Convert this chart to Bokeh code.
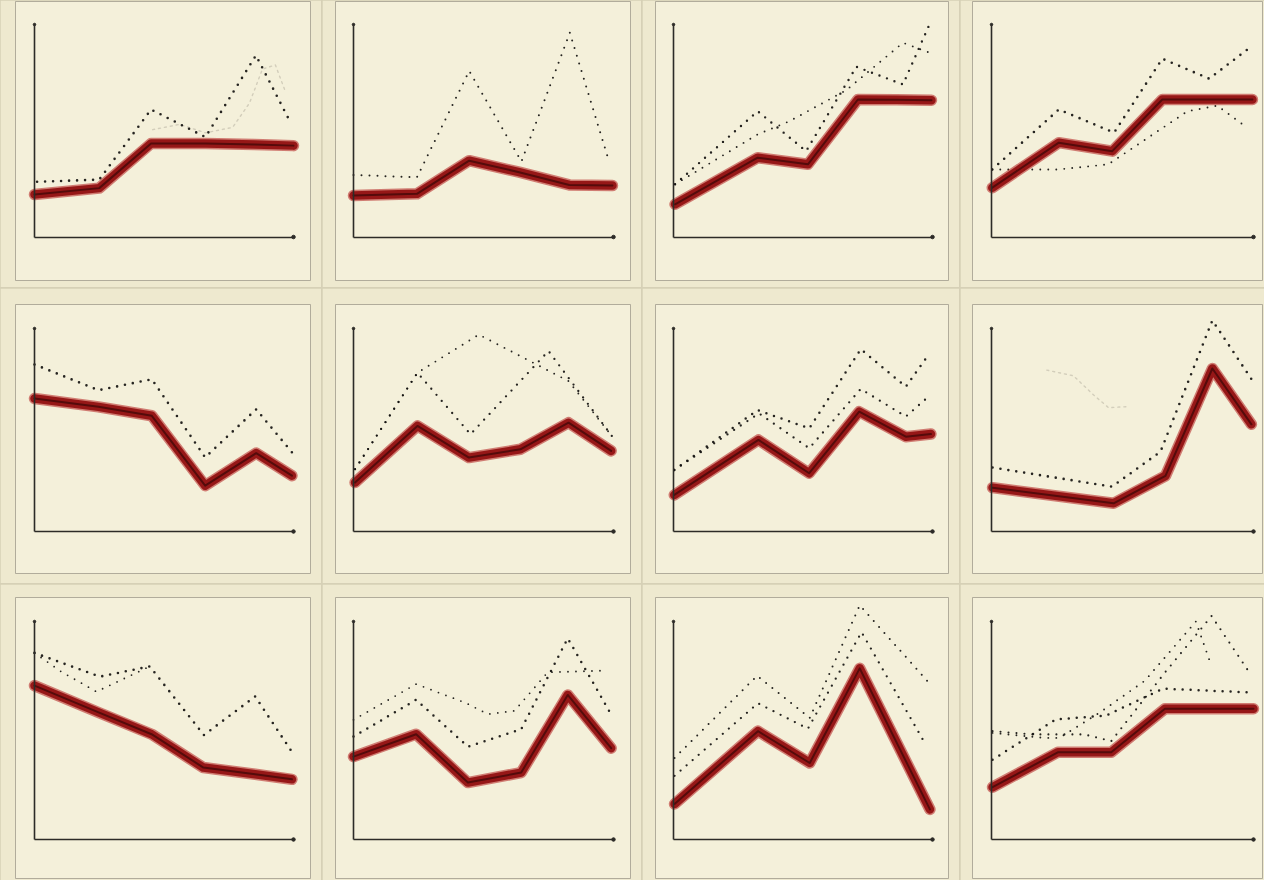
from bokeh.plotting import figure
from bokeh.layouts import row, column
from bokeh.models import Range1d, LinearAxis, FixedTicker
from bokeh.embed import file_html
from bokeh.resources import INLINE

# ---------------- data (axis units: 0..100 on both axes) ----------------
# Panel 1
p1_red_x = [0, 25, 45, 66, 85, 100]
p1_red_y = [20, 23, 44, 44, 43.5, 43]
p1_dot_x = [1, 25, 45, 66, 85.5, 99]
p1_dot_y = [26, 27, 60, 47, 85.5, 53.5]
p1_faint_x = [45.6, 56, 66, 76.5, 83, 88, 93, 97]
p1_faint_y = [50.5, 53, 49, 51.6, 63, 79, 81, 68]
# Panel 2
p2_red_x = [0, 24.4, 44.5, 63.7, 83, 99.6]
p2_red_y = [19.5, 20.3, 35.9, 30.5, 24.5, 24.2]
p2_dot_x = [0, 24.4, 44.5, 64.6, 83.2, 98]
p2_dot_y = [29.2, 28.1, 78.1, 35.5, 96.1, 36.7]
# Panel 3
p3_red_x = [0.6, 32.5, 51.9, 71.2, 86, 99.6]
p3_red_y = [15.4, 37.3, 34.2, 64.7, 64.6, 64.4]
p3_dotA_x = [0.6, 32.5, 51.2, 70.6, 88.6, 99]
p3_dotA_y = [24.8, 59.2, 40.4, 80.1, 71.8, 100.5]
p3_dotB_x = [0.6, 32.5, 44.8, 66.7, 88.6, 99]
p3_dotB_y = [24.8, 48.3, 54.5, 69.1, 91.4, 86.7]
# Panel 4
p4_red_x = [0.3, 25.7, 46.1, 65.2, 82.4, 99.6]
p4_red_y = [23.2, 44.4, 40.4, 64.7, 64.7, 64.7]
p4_dotA_x = [0.3, 25.7, 46.8, 65.2, 83.1, 99]
p4_dotA_y = [31.8, 60, 49.1, 83.9, 74.5, 89.5]
p4_dotB_x = [0.3, 25.7, 44.6, 74.8, 86.2, 96.4]
p4_dotB_y = [31.8, 31.8, 34.2, 59.2, 61.8, 52.5]
# Panel 5
p5_red_x = [0, 24.7, 45.3, 65.9, 85.6, 99.4]
p5_red_y = [65.5, 61.4, 57, 22.6, 38.6, 27.5]
p5_dot_x = [0, 24.7, 45.3, 65.9, 85.6, 100]
p5_dot_y = [82.3, 69.6, 75, 36.5, 60.2, 38.1]
# Panel 6
p6_red_x = [0.6, 24.6, 44.4, 64.2, 82.7, 99.1]
p6_red_y = [24.1, 52, 36.4, 40.5, 53.6, 39.7]
p6_dotA_x = [0.6, 24.6, 45, 75, 99.4]
p6_dotA_y = [30.7, 78.2, 47.9, 88.9, 47]
p6_dotB_x = [0.6, 24.6, 48.2, 82.7, 99.4]
p6_dotB_y = [30.7, 78.2, 97, 74.1, 47]
# Panel 7
p7_red_x = [0.3, 32.8, 52.4, 71.7, 89.7, 99.4]
p7_red_y = [18, 45.1, 28.7, 59, 46.7, 48]
p7_dotA_x = [0.3, 32.4, 52.4, 72.3, 89.7, 98.5]
p7_dotA_y = [30.3, 59.8, 50.8, 89.8, 71.3, 87.2]
p7_dotB_x = [0.3, 33, 52.4, 72.3, 89.7, 99.4]
p7_dotB_y = [30.3, 58.2, 41, 70.2, 56.6, 67.5]
# Panel 8
p8_red_x = [0.4, 46.6, 66.4, 84.3, 99.2]
p8_red_y = [21.6, 13.9, 27.4, 80.3, 52.8]
p8_dot_x = [0.4, 46, 64.5, 84.3, 99.2]
p8_dot_y = [31.5, 22.1, 39.3, 104, 75.1]
p8_faint_x = [21.1, 31.3, 39, 44.7, 51.7]
p8_faint_y = [79.5, 76.7, 67.2, 61, 61.5]
# Panel 9
p9_red_x = [0, 24.5, 45.2, 65.2, 85.2, 99.4]
p9_red_y = [70.6, 58.4, 48.3, 33, 29.9, 27.6]
p9_dotA_x = [0, 25.2, 44.5, 65.4, 85.2, 100]
p9_dotA_y = [85.6, 74.7, 79.4, 47.9, 65.6, 39.1]
p9_dotB_x = [0, 10.3, 23.9, 44.5]
p9_dotB_y = [85.6, 77, 67.8, 79.4]
# Panel 10
p10_red_x = [0, 24.1, 44, 64.5, 82.4, 99.1]
p10_red_y = [38, 48.3, 26.1, 30.7, 66.3, 41.9]
p10_dotA_x = [0, 24.1, 44, 64.5, 82.4, 98.5]
p10_dotA_y = [47.2, 64.1, 42.6, 50.6, 92.3, 58.6]
p10_dotB_x = [0, 24.1, 43.3, 51.7, 61.9, 74.7, 83.7, 97.2]
p10_dotB_y = [54.9, 71.3, 62.6, 57.5, 59, 76.7, 77, 77.5]
# Panel 11
p11_red_x = [0.4, 32.6, 52.6, 71.9, 99]
p11_red_y = [16.3, 49.7, 35.1, 78.5, 13.8]
p11_dotA_x = [0.4, 32.3, 52.6, 71.9, 89.3, 98.3]
p11_dotA_y = [37.4, 75.1, 55.8, 107.4, 84.3, 72.3]
p11_dotB_x = [0.4, 32.6, 51.9, 72.6, 97]
p11_dotB_y = [29.2, 62.5, 50.8, 95.1, 44.3]
# Panel 12
p12_red_x = [0.4, 25.3, 45.7, 66.2, 83.4, 100]
p12_red_y = [24, 40, 40, 60, 60, 60]
p12_dotA_x = [0.4, 24.6, 43.8, 65.5, 100]
p12_dotA_y = [36.6, 55.1, 56.9, 69.2, 67.4]
p12_dotB_x = [0.4, 20.2, 25.9, 41.3, 58.5, 78, 83.7]
p12_dotB_y = [48.9, 46.6, 46.6, 58.2, 72.8, 100, 80.5]
p12_dotC_x = [0.4, 15.7, 35.5, 45.7, 66.2, 84, 99.1]
p12_dotC_y = [49.7, 48.2, 48.2, 45.1, 76.6, 102.5, 75.4]

AXIS_MIN, AXIS_MAX = 0, 100

# ---------------- layout / style ----------------
PAGE = "#eee9cf"
PANEL = "#f4f0da"
FOLD = "#d6d0b6"
FRAME_LINE = "#a29e8e"
AXIS = "#2c2b27"
INK = "#141210"

COL_CELL_W = [321, 319, 317, 304]
COL_BORDER_L = [15, 13, 13, 12]
COL_FRAME_W = [295, 295, 293, 290]
COL_AXIS_OFF = [19, 18, 18, 19]
COL_AXIS_LEN = [259, 260, 259, 262]
ROW_CELL_H = [287, 295, 296]
ROW_BORDER_T = [1, 16, 13]
ROW_FRAME_H = [279, 269, 281]
ROW_AXIS_OFF = [43.5, 42, 39]
ROW_AXIS_LEN = [212.5, 203, 218]

panels = [
    ((p1_red_x, p1_red_y), [(p1_dot_x, p1_dot_y, 2.6)], [(p1_faint_x, p1_faint_y)]),
    ((p2_red_x, p2_red_y), [(p2_dot_x, p2_dot_y, 2.0)], []),
    ((p3_red_x, p3_red_y), [(p3_dotA_x, p3_dotA_y, 2.4), (p3_dotB_x, p3_dotB_y, 1.9)], []),
    ((p4_red_x, p4_red_y), [(p4_dotA_x, p4_dotA_y, 2.6), (p4_dotB_x, p4_dotB_y, 1.9)], []),
    ((p5_red_x, p5_red_y), [(p5_dot_x, p5_dot_y, 2.6)], []),
    ((p6_red_x, p6_red_y), [(p6_dotA_x, p6_dotA_y, 2.3), (p6_dotB_x, p6_dotB_y, 1.9)], []),
    ((p7_red_x, p7_red_y), [(p7_dotA_x, p7_dotA_y, 2.5), (p7_dotB_x, p7_dotB_y, 2.3)], []),
    ((p8_red_x, p8_red_y), [(p8_dot_x, p8_dot_y, 2.6)], [(p8_faint_x, p8_faint_y)]),
    ((p9_red_x, p9_red_y), [(p9_dotA_x, p9_dotA_y, 2.6), (p9_dotB_x, p9_dotB_y, 1.8)], []),
    ((p10_red_x, p10_red_y), [(p10_dotA_x, p10_dotA_y, 2.5), (p10_dotB_x, p10_dotB_y, 1.8)], []),
    ((p11_red_x, p11_red_y), [(p11_dotA_x, p11_dotA_y, 2.0), (p11_dotB_x, p11_dotB_y, 2.3)], []),
    ((p12_red_x, p12_red_y), [(p12_dotA_x, p12_dotA_y, 2.5), (p12_dotB_x, p12_dotB_y, 1.9), (p12_dotC_x, p12_dotC_y, 2.1)], []),
]


def make_panel(r, c, red, dotted, faint):
    fw, fh = COL_FRAME_W[c], ROW_FRAME_H[r]
    bl, bt = COL_BORDER_L[c], ROW_BORDER_T[r]
    br = COL_CELL_W[c] - bl - fw
    bb = ROW_CELL_H[r] - bt - fh
    xs = COL_AXIS_LEN[c] / 100.0
    ys = ROW_AXIS_LEN[r] / 100.0
    xr = Range1d(-COL_AXIS_OFF[c] / xs, (fw - COL_AXIS_OFF[c]) / xs)
    yr = Range1d(-ROW_AXIS_OFF[r] / ys, (fh - ROW_AXIS_OFF[r]) / ys)
    p = figure(width=COL_CELL_W[c], height=ROW_CELL_H[r], x_range=xr, y_range=yr,
               x_axis_type=None, y_axis_type=None, output_backend="svg",
               toolbar_location=None, min_border_left=bl, min_border_right=br,
               min_border_top=bt, min_border_bottom=bb)
    p.background_fill_color = PANEL
    p.border_fill_color = PAGE
    p.outline_line_color = FRAME_LINE
    p.outline_line_width = 1
    p.outline_line_alpha = 0.8

    for side in ("below", "left"):
        ax = LinearAxis(fixed_location=AXIS_MIN, bounds=(AXIS_MIN, AXIS_MAX),
                        ticker=FixedTicker(ticks=[]),
                        major_tick_line_color=None, minor_tick_line_color=None,
                        major_label_text_color=None,
                        axis_line_color=AXIS, axis_line_width=1.6)
        p.add_layout(ax, side)
    p.scatter([AXIS_MAX], [AXIS_MIN], size=3.5, color=AXIS)
    p.scatter([AXIS_MIN], [AXIS_MAX], size=2.5, color=AXIS)

    for fx, fy in faint:
        p.line(fx, fy, line_width=1.4, line_color="#7d786b", line_alpha=0.28,
               line_dash="2 4", line_cap="round")

    for dx, dy, w in dotted:
        p.line(dx, dy, line_width=w, line_color=INK, line_alpha=0.92,
               line_dash="0 8", line_cap="round", line_join="round")

    rx, ry = red
    p.line(rx, ry, line_width=11.5, line_color="#b21d1d", line_alpha=0.55,
           line_join="round", line_cap="round")
    p.line(rx, ry, line_width=8.5, line_color="#921212", line_alpha=0.95,
           line_join="round", line_cap="round")
    p.line(rx, ry, line_width=2, line_color="#2a0303", line_alpha=0.6,
           line_join="round", line_cap="round")
    return p


rows = []
for r in range(3):
    figs = []
    for c in range(4):
        red, dotted, faint = panels[r * 4 + c]
        figs.append(make_panel(r, c, red, dotted, faint))
    rows.append(row(figs, spacing=1, styles={"background-color": FOLD}))
layout = column(rows, spacing=1, styles={"background-color": FOLD})

open("out.html", "w").write(file_html(layout, INLINE))
